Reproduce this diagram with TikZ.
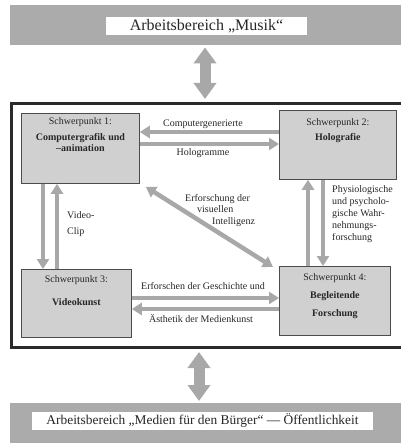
\documentclass[tikz,border=0pt]{standalone}
\usepackage{fontspec}
\setmainfont{Liberation Serif}
\usetikzlibrary{arrows.meta,calc}
\definecolor{bandgray}{HTML}{ABABAB}
\definecolor{boxgray}{HTML}{D0D0D0}
\definecolor{linkgray}{HTML}{A8A8A8}
\definecolor{framegray}{HTML}{2A2A2A}
\definecolor{inkgray}{HTML}{262626}
\begin{document}
\begin{tikzpicture}[x=1pt,y=-1pt,
  band/.style={fill=bandgray, draw=none, inner sep=0pt, anchor=north west},
  labelbox/.style={fill=white, inner sep=0pt, text=inkgray,
    font=\fontsize{16}{19}\selectfont},
  focus/.style={fill=boxgray, draw=black!70, line width=0.8pt,
    anchor=north west, inner sep=0pt},
  ftext/.style={anchor=north, align=center, inner sep=0pt, text=inkgray,
    font=\fontsize{10}{11}\selectfont},
  note/.style={inner sep=0pt, text=inkgray, font=\fontsize{10}{12}\selectfont},
  link/.style={draw=linkgray, line width=4.5pt,
    -{Triangle[width=12pt,length=10pt]}},
  twolink/.style={draw=linkgray, line width=4.5pt,
    {Triangle[width=12pt,length=10pt]}-{Triangle[width=12pt,length=10pt]}},
  biglink/.style={draw=linkgray, line width=11pt,
    {Triangle[width=22pt,length=16pt]}-{Triangle[width=22pt,length=16pt]}}
]
\useasboundingbox (0,0) rectangle (400,443);

% outer working areas
\node[band, minimum width=392pt, minimum height=40pt] (musikband) at (10,5) {};
\node[labelbox, minimum width=201pt, minimum height=18pt] (musik) at (206.5,26)
  {Arbeitsbereich „Musik“};
\node[band, minimum width=392pt, minimum height=42pt] (buergerband) at (10,403) {};
\node[labelbox, minimum width=341pt, minimum height=18pt,
  font=\fontsize{13.4}{16}\selectfont] (buerger) at (202.5,421)
  {Arbeitsbereich „Medien für den Bürger“ — Öffentlichkeit};

% frame around the four focal points
\node[draw=framegray, line width=3pt, inner sep=0pt, anchor=north west,
  minimum width=400pt, minimum height=243pt] (frame) at (9.5,102.5) {};

% focal points
\node[focus, minimum width=118pt, minimum height=70pt] (box1) at (21,113) {};
\node[focus, minimum width=117pt, minimum height=69pt] (box2) at (279,110) {};
\node[focus, minimum width=110pt, minimum height=68pt] (box3) at (21,269) {};
\node[focus, minimum width=111pt, minimum height=69pt] (box4) at (279,266) {};

\node[ftext] (t1) at ($(box1.north)+(0,4)$)
  {Schwerpunkt 1:\\[5pt]\textbf{Computergrafik und}\\\textbf{–animation}};
\node[ftext] (t2) at ($(box2.north)+(0,8)$)
  {Schwerpunkt 2:\\[4pt]\textbf{Holografie}};
\node[ftext] (t3) at ($(box3.north)+(0,6)$)
  {Schwerpunkt 3:\\[12pt]\textbf{Videokunst}};
\node[ftext] (t4) at ($(box4.north)+(0,7)$)
  {Schwerpunkt 4:\\[7pt]\textbf{Begleitende}\\[7pt]\textbf{Forschung}};

% links to the outer areas
\draw[biglink, shorten <=2pt, shorten >=3.5pt]
  (musikband.south -| 205,0) -- (frame.north -| 205,0);
\draw[biglink, shorten <=3.5pt, shorten >=2pt]
  (frame.south -| 199,0) -- (buergerband.north -| 199,0);

% links between the focal points
\draw[link] (box2.west |- 0,132) -- (box1.east |- 0,132);
\draw[link] (box1.east |- 0,144) -- (box2.west |- 0,144);
\node[note] (l12a) at (203,124) {Computergenerierte};
\node[note] (l12b) at (203,153) {Hologramme};

\draw[link] (box1.south -| 43,0) -- (box3.north -| 43,0);
\draw[link] (box3.north -| 57,0) -- (box1.south -| 57,0);
\node[note, anchor=west] (l13a) at (67,215) {Video-};
\node[note, anchor=west] (l13b) at (67,232) {Clip};

\draw[link] (box4.north -| 308,0) -- (box2.south -| 308,0);
\draw[link] (box2.south -| 323,0) -- (box4.north -| 323,0);
\node[note, anchor=north west, align=left] (l24) at (332,185)
  {Physiologische\\und psycholo-\\gische Wahr-\\nehmungs-\\forschung};

\draw[twolink] ($(box1.south east)+(6,3)$) -- ($(box4.north west)+(-6,1)$);
\node[note, anchor=north west, align=left, font=\fontsize{10}{11.5}\selectfont]
  (l14) at (185,194)
  {Erforschung der\\\hspace*{12pt}visuellen\\\hspace*{27pt}Intelligenz};

\draw[link] (box3.east |- 0,298) -- (box4.west |- 0,298);
\draw[link] (box4.west |- 0,309) -- (box3.east |- 0,309);
\node[note] (l34a) at (203,286) {Erforschen der Geschichte und};
\node[note] (l34b) at (201,318) {Ästhetik der Medienkunst};
\end{tikzpicture}
\end{document}
